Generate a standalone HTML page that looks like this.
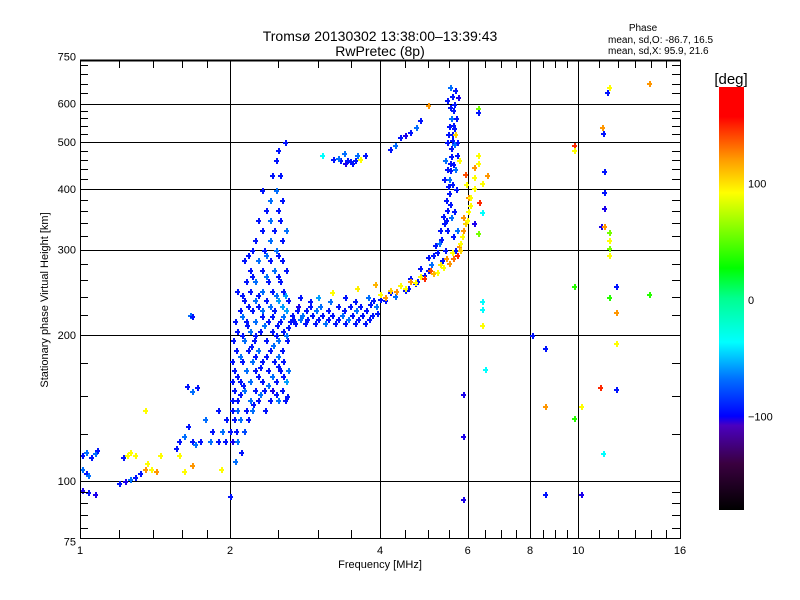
<!DOCTYPE html>
<html><head><meta charset="utf-8">
<style>
html,body{margin:0;padding:0;background:#fff;}
svg{display:block;font-family:"Liberation Sans",sans-serif;}
</style></head>
<body>
<svg id="chart" width="800" height="600" viewBox="0 0 800 600" xmlns="http://www.w3.org/2000/svg">
<defs>
<linearGradient id="cbg" x1="0" y1="1" x2="0" y2="0">
<stop offset="0" stop-color="#000000"/>
<stop offset="0.11" stop-color="#3a0040"/>
<stop offset="0.2" stop-color="#4a00c0"/>
<stop offset="0.222" stop-color="#0000ff"/>
<stop offset="0.31" stop-color="#0070ff"/>
<stop offset="0.397" stop-color="#00ffff"/>
<stop offset="0.5" stop-color="#00ff90"/>
<stop offset="0.572" stop-color="#00ff00"/>
<stop offset="0.75" stop-color="#ffff00"/>
<stop offset="0.83" stop-color="#ff9900"/>
<stop offset="0.9" stop-color="#ff3000"/>
<stop offset="0.93" stop-color="#ff0000"/>
<stop offset="1" stop-color="#ff0000"/>
</linearGradient>
</defs>
<g id="grid" shape-rendering="crispEdges"></g>
<g id="pts" shape-rendering="crispEdges"></g>
<g id="axes" shape-rendering="crispEdges"></g>
<text x="380" y="41" text-anchor="middle" font-size="14">Tromsø 20130302 13:38:00–13:39:43</text>
<text x="380" y="56" text-anchor="middle" font-size="14">RwPretec (8p)</text>
<text x="643" y="31" text-anchor="middle" font-size="10">Phase</text>
<text x="608" y="43" font-size="10">mean, sd,O:  -86.7, 16.5</text>
<text x="608" y="54" font-size="10">mean, sd,X:   95.9, 21.6</text>
<text transform="translate(48,300) rotate(-90)" text-anchor="middle" font-size="11">Stationary phase Virtual Height [km]</text>
<text x="380" y="568" text-anchor="middle" font-size="11">Frequency [MHz]</text>
<rect x="719" y="87" width="25" height="423" fill="url(#cbg)"/>
<text x="731" y="84" text-anchor="middle" font-size="15">[deg]</text>
<g id="cbticks"></g>
</svg>
<script>
const xTicks = [1, 2, 4, 6, 8, 10, 16];
const xTickLabels = ["1", "2", "4", "6", "8", "10", "16"];
const xMinor = [1.2, 1.4, 1.6, 1.8, 2.5, 3, 3.5, 4.5, 5, 5.5, 6.5, 7, 7.5, 8.5, 9, 9.5, 11, 12, 13, 14, 15];
const yTicks = [75, 100, 200, 300, 400, 500, 600, 750];
const yGrid = [100, 200, 300, 400, 500, 600];
const xGrid = [2, 4, 6, 8, 10];
const yMinor = [80, 85, 90, 95, 125, 150, 175, 220, 240, 260, 280, 320, 340, 360, 380, 420, 440, 460, 480, 520, 540, 560, 580, 630, 660, 690, 720];
const cbTicks = [100, 0, -100];

// F-region spread band [freqMHz, heightKm, phaseDeg]
const fBand = [
[1.74,121,-95],[1.82,121,-70],[1.89,121,-95],[1.95,121,-95],[2.02,121,-110],[2.07,121,-70],
[1.84,127,-95],[1.93,127,-70],[2.0,127,-95],[2.06,127,-95],[2.13,127,-80],
[1.78,134,-70],[1.96,134,-95],[2.04,134,-95],[2.09,134,-70],[2.17,134,-95],
[1.89,140,-95],[2.02,140,-95],[2.07,140,-75],[2.15,140,-95],[2.21,140,-70],
[2.02,147,-95],[2.07,147,-95],[2.19,147,-70],[2.28,147,-95],[2.41,147,-95],[2.50,147,-70],[2.58,147,-95],
[2.09,151,-95],[2.30,151,-70],[2.47,151,-95],
[2.04,154,-95],[2.13,154,-70],[2.24,154,-95],[2.34,154,-95],[2.43,154,-110],[2.54,154,-95],
[2.02,161,-95],[2.09,161,-95],[2.19,161,-70],[2.32,161,-95],[2.47,161,-95],[2.59,161,-60],
[2.07,165,-95],[2.28,165,-95],[2.43,165,-70],[2.56,165,-95],
[2.04,169,-95],[2.15,169,-70],[2.25,169,-95],[2.38,169,-95],[2.52,169,-95],[2.61,169,-70],
[2.02,177,-95],[2.11,177,-95],[2.21,177,-70],[2.32,177,-95],[2.45,177,-95],[2.56,177,-95],
[2.09,181,-70],[2.25,181,-95],[2.36,181,-95],[2.50,181,-70],
[2.06,186,-95],[2.17,186,-95],[2.28,186,-70],[2.41,186,-95],[2.54,186,-95],
[2.03,195,-95],[2.13,195,-70],[2.23,195,-95],[2.36,195,-95],[2.50,195,-70],[2.60,195,-95],
[2.11,200,-95],[2.25,200,-95],[2.47,200,-95],[2.59,200,-70],
[2.07,204,-95],[2.19,204,-70],[2.30,204,-95],[2.43,204,-95],[2.56,204,-95],
[2.05,214,-95],[2.15,214,-95],[2.25,214,-70],[2.38,214,-95],[2.52,214,-95],[2.64,214,-95],
[2.11,219,-70],[2.32,219,-95],[2.43,219,-95],[2.56,219,-70],
[2.09,225,-95],[2.21,225,-95],[2.32,225,-70],[2.45,225,-95],[2.59,225,-60],
[2.17,230,-95],[2.28,230,-95],[2.41,230,-70],[2.54,230,-60],
[2.13,236,-95],[2.25,236,-70],[2.36,236,-95],[2.50,236,-60],[2.61,236,-95],
[2.11,242,-95],[2.28,242,-95],[2.47,242,-70],[2.58,242,-60],
[2.07,247,-95],[2.19,247,-95],[2.32,247,-70],[2.43,247,-95],[2.56,247,-95],
[2.15,259,-95],[2.25,259,-70],[2.38,259,-95],[2.52,259,-95],
[2.21,265,-95],[2.36,265,-70],[2.50,265,-95],
[2.19,272,-95],[2.32,272,-95],[2.45,272,-70],[2.59,272,-95],
[2.13,285,-95],[2.28,285,-70],[2.41,285,-95],[2.54,285,-95],
[2.17,292,-95],[2.36,292,-70],[2.50,292,-95],
[2.21,299,-95],[2.34,299,-95],[2.47,299,-70],
[2.25,314,-95],[2.41,314,-70],[2.54,314,-95],
[2.32,329,-95],[2.45,329,-95],[2.59,329,-70],
[2.28,345,-95],[2.41,345,-70],[2.52,345,-95],
[2.36,362,-95],[2.50,362,-95],
[2.41,380,-70],[2.54,380,-95],
[2.32,398,-95],[2.47,398,-70],
[2.43,428,-95],[2.52,428,-95],
[2.47,459,-95],[2.50,481,-95],[2.58,500,-95],
[2.16,210,-95],[2.34,210,-70],[2.48,210,-95],[2.62,208,-95],[2.20,190,-95],[2.44,191,-70],[2.30,172,-95],[2.50,173,-95],
[2.12,158,-95],[2.38,158,-70],[2.60,150,-95],[2.22,144,-95],[2.35,140,-95],[2.10,115,-95],[2.05,110,-70]
];

// Horizontal F1 trace and O-mode trace
const oTrace = [
[2.70,212,-95],[2.83,212,-95],[2.96,212,-95],[3.10,212,-70],[3.25,212,-95],[3.41,212,-95],[3.56,212,-95],[3.73,212,-95],
[2.66,220,-95],[2.79,220,-70],[2.92,220,-95],[3.06,220,-95],[3.20,220,-95],[3.36,220,-70],[3.51,220,-95],[3.68,220,-95],[3.86,220,-95],
[2.74,230,-110],[2.89,230,-95],[3.03,230,-70],[3.30,230,-95],[3.48,230,-95],[3.65,230,-95],[3.92,230,-70],
[2.76,240,-95],[3.00,240,-60],[3.41,240,-95],[3.78,240,-70],
[2.68,216,-95],[2.76,216,-70],[2.86,216,-95],[3.00,216,-95],[3.14,216,-95],[3.30,216,-95],[3.45,216,-70],[3.62,216,-95],[3.80,216,-95],[3.95,222,-95],
[2.72,225,-95],[2.84,225,-95],[2.98,225,-70],[3.15,225,-95],[3.38,225,-95],[3.58,225,-70],[3.75,225,-95],
[2.90,235,-95],[3.18,235,-70],[3.56,235,-95],[3.88,236,-95],
[4.0,237,-95],[4.19,245,-95],[4.39,253,-95],[4.59,262,-95],[4.81,275,-95],[4.99,289,-95],[5.16,307,-95],[5.28,329,-95],
[5.35,352,-95],[5.43,380,-95],[5.48,405,-95],[5.53,438,-95],[5.56,467,-95],[5.58,505,-95],[5.61,543,-95],[5.61,581,-95],[5.58,621,-95],[5.53,648,-70],
[3.82,232,-95],[4.10,236,-95],[4.29,241,-70],[4.49,248,-95],[4.70,256,-95],[4.91,266,-95],[5.06,280,-70],[5.21,296,-95],[5.31,315,-95],
[5.38,340,-95],[5.45,362,-95],[5.50,392,-95],[5.50,420,-70],[5.53,452,-95],[5.56,485,-95],[5.58,520,-95],[5.56,560,-70],
[5.20,270,-70],[5.32,285,-95],[5.40,300,-95],[5.45,330,-95],[5.66,300,-95],[5.70,330,-70],[5.62,360,-95],[5.68,400,-95],[5.66,440,-70],
[5.70,500,-95],[5.68,560,-95],[5.64,600,-95],[5.45,610,-95],[5.48,520,-95],[5.40,460,-70],[5.38,420,-95],[5.72,470,-95],[5.74,620,-110],
[4.55,250,-95],[4.75,258,-95],[5.00,272,-95],[5.12,292,-95],[5.25,310,-70],[5.42,345,-95],[5.52,372,-95],[5.58,410,-95],[5.60,450,-95],
[5.62,495,-70],[5.64,535,-95],[5.52,590,-95],[5.66,640,-95],[5.50,540,-95],[5.46,500,-95],[5.44,440,-95],[5.55,350,-70],[5.60,320,-95]
];

// X-mode trace (positive phase)
const xTrace = [
[4.0,243,95],[4.19,248,110],[4.39,253,95],[4.59,259,130],[4.81,265,95],[5.04,272,150],[5.28,280,100],[5.43,288,130],
[5.58,297,95],[5.76,305,130],[5.84,320,95],[5.92,340,110],[6.00,360,95],[6.00,385,130],[5.96,410,95],[5.92,430,150],
[4.10,240,130],[4.50,250,95],[4.90,262,160],[5.20,270,95],[5.50,282,130],[5.70,292,160],[5.80,310,95],
[3.60,250,100],[3.20,245,95],[3.90,255,120],[5.66,520,110],[5.76,460,95],
[4.30,246,130],[4.70,257,95],[5.10,268,120],[5.35,276,95],[5.60,288,140],[5.78,300,110],[5.88,330,130]
];

// Upper sparse traces / clusters
const upperPts = [
[4.19,484,-95],[4.29,494,-70],[4.39,511,-95],[4.49,518,-110],[4.59,525,-95],[4.72,536,-70],[4.81,556,-95],[4.99,597,130],
[3.22,462,-95],[3.33,459,-95],[3.41,452,-110],[3.48,456,-95],[3.56,459,-95],[3.65,462,95],[3.73,471,-95],[3.38,475,-70],[3.06,471,-40],[3.60,470,-70],
[3.44,458,-95],[3.52,452,-95],[3.30,464,-70]
];

// Low-frequency / E-region points
const lowPts = [
[1.01,113,-95],[1.03,115,-70],[1.05,112,-95],[1.07,114,-70],[1.08,116,-95],
[1.01,106,-70],[1.03,104,-95],[1.04,103,-70],
[1.01,96,-110],[1.04,95,-95],[1.07,94,-110],
[1.20,99,-95],[1.23,100,-110],[1.26,101,-70],[1.29,102,-95],[1.32,104,-95],
[1.24,113,95],[1.26,115,95],[1.29,113,95],[1.22,112,-95],
[1.36,109,95],[1.39,106,95],[1.42,105,130],[1.45,113,95],[1.35,106,130],
[1.58,121,-95],[1.62,124,-70],[1.65,130,-95],[1.68,121,-95],[1.70,119,-70],[1.56,117,-95],
[1.58,113,95],[1.62,105,95],[1.68,108,130],[1.92,106,95],
[1.64,157,-95],[1.68,153,-70],[1.72,156,-95],[1.66,220,-70],[1.68,219,-95],[1.35,140,95],[2.0,93,-95]
];

// Sparse high-frequency points
const sparsePts = [
[6.29,588,60],[6.29,576,-95],[6.41,235,-40],[6.41,226,-40],[6.41,210,95],[6.50,170,-40],
[5.87,151,-110],[5.87,124,-110],[5.87,92,-110],
[8.09,200,-95],[8.58,188,-95],[8.58,143,130],[9.79,135,40],[10.11,143,95],[8.58,94,-95],[10.11,94,-110],
[9.79,494,160],[9.79,481,95],[9.79,252,40],
[11.20,521,-95],[11.15,536,130],[11.25,435,-95],[11.25,395,-95],[11.25,366,-110],[11.10,336,-110],[11.25,336,130],
[11.55,649,95],[11.44,634,-95],[11.55,326,60],[11.55,314,95],[11.55,302,60],[11.55,293,95],
[11.93,252,-95],[11.55,240,40],[11.93,223,130],[11.93,193,95],[11.05,156,160],[11.93,155,-95],[11.20,114,-40],
[13.86,661,130],[13.86,243,40],
[6.29,469,95],[6.29,452,95],[6.17,443,130],[6.17,423,95],[6.41,412,95],[6.56,428,130],[6.17,402,95],[6.06,385,95],
[6.32,376,160],[6.06,371,95],[6.41,359,-40],[6.17,340,-110],[5.87,350,130],[5.97,345,95],[6.29,324,60]
];

const X0 = 80, X1 = 680, Y0 = 60, Y1 = 538;
function xScale(f){ return X0 + 150 * Math.log2(f); }
function yScale(h){ return 481 - 146 * Math.log2(h / 100); }
function cbScale(p){ return 300 - p * 1.165; }

const cStops = [[-180,[0,0,0]],[-140,[80,0,140]],[-115,[40,0,230]],[-100,[0,0,255]],[-70,[0,110,255]],[-40,[0,255,255]],[0,[0,255,150]],[30,[0,255,0]],[95,[255,255,0]],[130,[255,150,0]],[160,[255,40,0]],[180,[255,0,0]]];
function phaseColor(p){
  for (let i = 0; i < cStops.length - 1; i++) {
    const a = cStops[i], b = cStops[i+1];
    if (p <= b[0]) {
      const t = Math.max(0, (p - a[0]) / (b[0] - a[0]));
      const c = a[1].map((v, k) => Math.round(v + (b[1][k] - v) * t));
      return 'rgb(' + c.join(',') + ')';
    }
  }
  return 'rgb(255,0,0)';
}

const NS = 'http://www.w3.org/2000/svg';
function mk(tag, attrs, parent){
  const e = document.createElementNS(NS, tag);
  for (const k in attrs) e.setAttribute(k, attrs[k]);
  parent.appendChild(e);
  return e;
}

const grid = document.getElementById('grid');
xGrid.forEach(f => {
  const x = Math.round(xScale(f)) + 0.5;
  const l = mk('line', {x1: x, x2: x, y1: Y0, y2: Y1, stroke: '#000', 'stroke-width': 1}, grid);
  
  
});
yGrid.forEach(h => {
  const y = Math.round(yScale(h)) + 0.5;
  const l = mk('line', {x1: X0, x2: X1, y1: y, y2: y, stroke: '#000', 'stroke-width': 1}, grid);
  
  
});

const ptsG = document.getElementById('pts');
function drawPoints(arr, name){
  arr.forEach(d => {
    const x = Math.round(xScale(d[0])), y = Math.round(yScale(d[1]));
    if (x < X0 || x > X1 || y < Y0 || y > Y1) return;
    const col = phaseColor(d[2]);
    const g = mk('path', {d: 'M' + (x-2) + ' ' + y + 'h5v2h-5zM' + x + ' ' + (y-2) + 'h2v6h-2z', fill: col}, ptsG);
    
    
  });
}
drawPoints(fBand, 'f-band-point');
drawPoints(oTrace, 'o-trace-point');
drawPoints(xTrace, 'x-trace-point');
drawPoints(upperPts, 'upper-point');
drawPoints(lowPts, 'low-point');
drawPoints(sparsePts, 'sparse-point');

const axes = document.getElementById('axes');
const frame = mk('rect', {x: X0 + 0.5, y: Y0 + 0.5, width: X1 - X0, height: Y1 - Y0, fill: 'none', stroke: '#000', 'stroke-width': 1}, axes);


mk('line', {x1: X0, x2: X1 + 1, y1: Y0 + 0.5, y2: Y0 + 0.5, stroke: '#000', 'stroke-width': 2}, axes);

xMinor.forEach(f => {
  const x = Math.round(xScale(f)) + 0.5;
  mk('line', {x1: x, x2: x, y1: Y0, y2: Y0 + 8, stroke: '#000'}, axes);
  mk('line', {x1: x, x2: x, y1: Y1, y2: Y1 - 8, stroke: '#000'}, axes);
});
yMinor.forEach(h => {
  const y = Math.round(yScale(h)) + 0.5;
  mk('line', {x1: X0, x2: X0 + 8, y1: y, y2: y, stroke: '#000'}, axes);
  mk('line', {x1: X1, x2: X1 - 8, y1: y, y2: y, stroke: '#000'}, axes);
});
xTicks.forEach((f, i) => {
  const t = mk('text', {x: xScale(f), y: 554, 'text-anchor': 'middle', 'font-size': 11}, axes);
  t.textContent = xTickLabels[i];
  
  
});
yTicks.forEach(h => {
  const t = mk('text', {x: 76, y: yScale(h) + 4, 'text-anchor': 'end', 'font-size': 11}, axes);
  t.textContent = String(h);
  
  
});

const cbt = document.getElementById('cbticks');
cbTicks.forEach(p => {
  const t = mk('text', {x: 748, y: cbScale(p) + 4, 'font-size': 11}, cbt);
  t.textContent = p < 0 ? '\u2212' + Math.abs(p) : String(p);
  
  
});
</script>
</body></html>
